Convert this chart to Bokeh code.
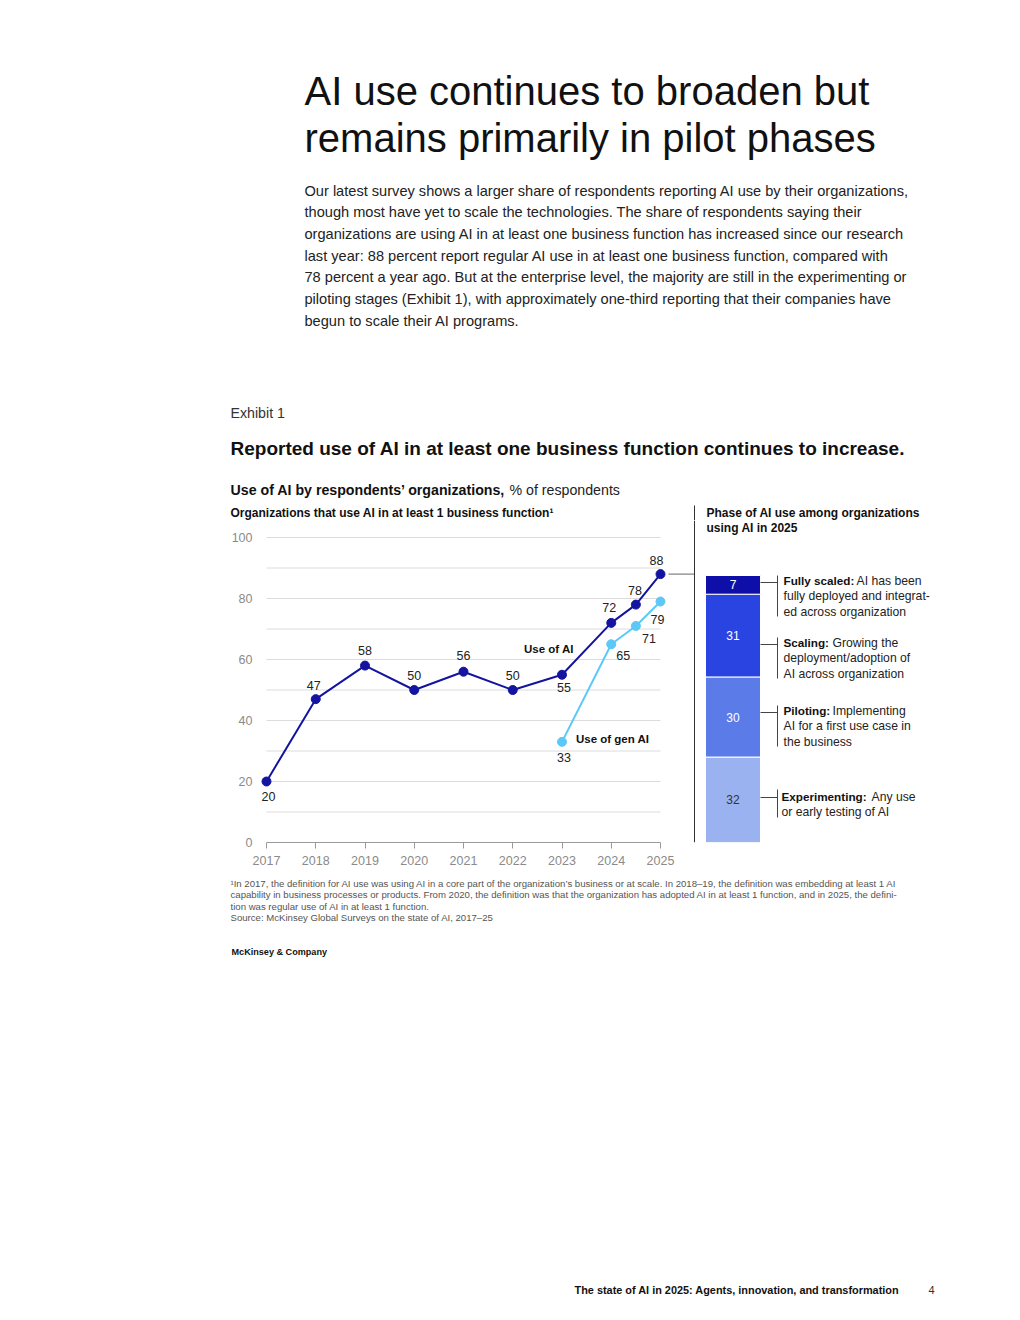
from bokeh.plotting import figure
from bokeh.models import Range1d, ColumnDataSource, FixedTicker, Span
from bokeh.layouts import column, row
from bokeh.core.properties import value
from bokeh.embed import file_html
from bokeh.resources import INLINE

# ---------------- data ----------------
ai_years = [2017, 2018, 2019, 2020, 2021, 2022, 2023, 2024, 2024.5, 2025]
ai_use = [20, 47, 58, 50, 56, 50, 55, 72, 78, 88]
gen_years = [2023, 2024, 2024.5, 2025]
gen_ai_use = [33, 65, 71, 79]
x_tick_years = [2017, 2018, 2019, 2020, 2021, 2022, 2023, 2024, 2025]
y_ticks = [0, 20, 40, 60, 80, 100]
grid_values = [10, 20, 30, 40, 50, 60, 70, 80, 90, 100]

phases = ["Experimenting", "Piloting", "Scaling", "Fully scaled"]
phase_share = [32, 30, 31, 7]

title_lines = ["AI use continues to broaden but", "remains primarily in pilot phases"]
para_lines = [
    "Our latest survey shows a larger share of respondents reporting AI use by their organizations,",
    "though most have yet to scale the technologies. The share of respondents saying their",
    "organizations are using AI in at least one business function has increased since our research",
    "last year: 88 percent report regular AI use in at least one business function, compared with",
    "78 percent a year ago. But at the enterprise level, the majority are still in the experimenting or",
    "piloting stages (Exhibit 1), with approximately one-third reporting that their companies have",
    "begun to scale their AI programs.",
]
foot_lines = [
    "\u00b9In 2017, the definition for AI use was using AI in a core part of the organization\u2019s business or at scale. In 2018\u201319, the definition was embedding at least 1 AI",
    " capability in business processes or products. From 2020, the definition was that the organization has adopted AI in at least 1 function, and in 2025, the defini-",
    " tion was regular use of AI in at least 1 function.",
    " Source: McKinsey Global Surveys on the state of AI, 2017\u201325",
]

# ---------------- styles ----------------
FONT = "Liberation Sans"
AI_COLOR = "#1414a0"
GEN_COLOR = "#5cc8f7"
BAR_COLORS = ["#9bb2f0", "#5b7be8", "#2a44e2", "#0d0fa8"]
BAR_TEXT = ["#333333", "#ffffff", "#ffffff", "#ffffff"]
TICK_COLOR = "#8a8a8a"

PX_YEAR = 49.25   # px per year on the line chart
PX_PCT = 3.05     # px per percentage point on the line chart
PX_BAR = 2.67     # px per percentage point on the bar


def blank(width, height, xr, yr, **kw):
    p = figure(width=width, height=height, x_range=xr, y_range=yr,
               output_backend="svg", toolbar_location=None,
               x_axis_type=None, y_axis_type=None, outline_line_color=None,
               min_border=0, background_fill_color="white",
               border_fill_color="white", **kw)
    p.xgrid.visible = False
    p.ygrid.visible = False
    return p


def txt(p, x, y, s, size, color="#222222", bold=False, align="left", **kw):
    p.text(x=[x], y=[y], text=[s], text_font=value(FONT),
           text_font_size=f"{size}px", text_color=color,
           text_font_style="bold" if bold else "normal",
           text_align=align, text_baseline="middle", **kw)


# ---------------- top text block (page y 0..520) ----------------
top = blank(1004, 520, Range1d(0, 1004), Range1d(520, 0))
txt(top, 304, 90, title_lines[0], 40, color="#111111")
txt(top, 304, 137, title_lines[1], 40, color="#111111")
for i, line in enumerate(para_lines):
    txt(top, 304, 190 + 21.67 * i, line, 14.6, color="#222222")
txt(top, 230, 412, "Exhibit 1", 14.2, color="#333333")
txt(top, 230, 448, "Reported use of AI in at least one business function continues to increase.",
    19, color="#111111", bold=True)
txt(top, 230, 489, "Use of AI by respondents\u2019 organizations,", 14.2, color="#111111", bold=True)
txt(top, 509, 489, "% of respondents", 14.2, color="#222222")
txt(top, 230, 512, "Organizations that use AI in at least 1 business function\u00b9", 12,
    color="#111111", bold=True)
txt(top, 706, 512, "Phase of AI use among organizations", 12, color="#111111", bold=True)
top.segment(x0=[694], y0=[505], x1=[694], y1=[520], line_color="#333333", line_width=1)

# ---------------- line chart (page y 520..875, x 0..700) ----------------
chart = figure(width=700, height=355,
               x_range=Range1d(2017 - 8 / PX_YEAR, 2017 + 434 / PX_YEAR),
               y_range=Range1d(0, 322 / PX_PCT),
               output_backend="svg", toolbar_location=None,
               min_border_left=258, min_border_right=0, min_border_top=0,
               min_border_bottom=33, outline_line_color=None,
               background_fill_color="white", border_fill_color="white")
chart.xgrid.visible = False
chart.ygrid.visible = False

xa = chart.xaxis[0]
xa.ticker = FixedTicker(ticks=x_tick_years)
xa.bounds = (x_tick_years[0], x_tick_years[-1])
xa.axis_line_color = "#9a9a9a"
xa.major_tick_line_color = "#9a9a9a"
xa.major_tick_out = 6
xa.major_tick_in = 0
xa.minor_tick_line_color = None
xa.major_label_standoff = 7
xa.major_label_text_font = FONT
xa.major_label_text_font_size = "12.5px"
xa.major_label_text_color = TICK_COLOR

ya = chart.yaxis[0]
ya.ticker = FixedTicker(ticks=y_ticks)
ya.axis_line_color = None
ya.major_tick_line_color = None
ya.minor_tick_line_color = None
ya.major_tick_out = 0
ya.major_tick_in = 0
ya.major_label_standoff = 6
ya.major_label_text_font = FONT
ya.major_label_text_font_size = "12.5px"
ya.major_label_text_color = TICK_COLOR

# horizontal gridlines between first and last year
chart.segment(x0=[x_tick_years[0]] * len(grid_values), y0=grid_values,
              x1=[x_tick_years[-1]] * len(grid_values), y1=grid_values,
              line_color="#dcdcdc", line_width=1)

# divider and connector to the bar
div_x = 2017 + (694 - 266) / PX_YEAR
chart.add_layout(Span(location=div_x, dimension="height", line_color="#333333", line_width=1))
chart.segment(x0=[ai_years[-1] + 8 / PX_YEAR], y0=[ai_use[-1]], x1=[div_x], y1=[ai_use[-1]],
              line_color="#666666", line_width=1)

# gen AI series
chart.line(gen_years, gen_ai_use, line_color=GEN_COLOR, line_width=2)
chart.scatter(gen_years, gen_ai_use, size=9, fill_color=GEN_COLOR, line_color=GEN_COLOR)
# AI series
chart.line(ai_years, ai_use, line_color=AI_COLOR, line_width=2)
chart.scatter(ai_years, ai_use, size=9, fill_color=AI_COLOR, line_color=AI_COLOR)

ai_dx = [2, -2, 0, 0, 0, 0, 2, -2, -1, -4]
ai_dy = [15, -14, -15, -15, -16, -15, 13, -15, -14, -14]
gen_dx = [2, 12, 13, -3]
gen_dy = [16, 11, 13, 18]
chart.text(x=ai_years, y=ai_use, text=[str(v) for v in ai_use], x_offset=ai_dx, y_offset=ai_dy,
           text_align="center", text_baseline="middle", text_font=value(FONT),
           text_font_size="12.5px", text_color="#222222")
chart.text(x=gen_years, y=gen_ai_use, text=[str(v) for v in gen_ai_use], x_offset=gen_dx,
           y_offset=gen_dy, text_align="center", text_baseline="middle",
           text_font=value(FONT), text_font_size="12.5px", text_color="#222222")
chart.text(x=[ai_years[6]], y=[ai_use[6]], text=["Use of AI"], x_offset=[-38], y_offset=[-26],
           text_align="left", text_baseline="middle", text_font=value(FONT),
           text_font_size="11.5px", text_font_style="bold", text_color="#111111")
chart.text(x=[gen_years[0]], y=[gen_ai_use[0]], text=["Use of gen AI"], x_offset=[14],
           y_offset=[-3], text_align="left", text_baseline="middle", text_font=value(FONT),
           text_font_size="11.5px", text_font_style="bold", text_color="#111111")

# ---------------- stacked bar (page y 520..875, x 700..1004) ----------------
bar = blank(304, 355, Range1d(700, 1004), Range1d(0, 322 / PX_BAR), min_border_bottom=33)
bar.extra_y_ranges = {"px": Range1d(842, 520)}
txt(bar, 706, 527, "using AI in 2025", 12, color="#111111", bold=True, y_range_name="px")

src = {"x": [732.5]}
for ph, v in zip(phases, phase_share):
    src[ph] = [v]
bar.vbar_stack(phases, x="x", width=55, color=BAR_COLORS, line_color="white", line_width=1,
               source=ColumnDataSource(src))
mids = []
acc = 0
for v in phase_share:
    mids.append(acc + v / 2)
    acc += v
bar.text(x=[732.5] * len(phases), y=mids, text=[str(v) for v in phase_share],
         text_align="center", text_baseline="middle", text_font=value(FONT),
         text_font_size="12px", text_color=BAR_TEXT)

notes = [
    # bold lead, regular rest of line 1, x of regular part, further lines,
    # line-1 centre y, connector y, bracket top, bracket bottom
    ("Fully scaled:", "AI has been", 856, ["fully deployed and integrat-", "ed across organization"],
     580, 582, 575, 616),
    ("Scaling:", "Growing the", 832, ["deployment/adoption of", "AI across organization"],
     642, 644, 637, 678),
    ("Piloting:", "Implementing", 832, ["AI for a first use case in", "the business"],
     710, 712, 705, 746),
    ("Experimenting:", "Any use", 871, ["or early testing of AI"],
     796, 797, 789, 817),
]
for b, r, rx, rest, y0, hy, v0, v1 in notes:
    bx = 783 if b != "Experimenting:" else 781
    txt(bar, bx, y0, b, 11.7, color="#111111", bold=True, y_range_name="px")
    txt(bar, rx, y0, r, 12.2, color="#222222", y_range_name="px")
    for k, line in enumerate(rest):
        txt(bar, bx, y0 + 15.5 * (k + 1), line, 12.2, color="#222222", y_range_name="px")
    bar.segment(x0=[760], y0=[hy], x1=[777], y1=[hy], line_color="#444444", line_width=1,
                y_range_name="px")
    bar.segment(x0=[777], y0=[v0], x1=[777], y1=[v1], line_color="#444444", line_width=1,
                y_range_name="px")

# ---------------- bottom text block (page y 875..1304) ----------------
bottom = blank(1004, 429, Range1d(0, 1004), Range1d(1304, 875))
for i, line in enumerate(foot_lines):
    txt(bottom, 230, 883 + 11.3 * i, line, 9.6, color="#555555")
txt(bottom, 231, 951, "McKinsey & Company", 9.1, color="#111111", bold=True)
txt(bottom, 574, 1289, "The state of AI in 2025: Agents, innovation, and transformation", 10.9,
    color="#111111", bold=True)
txt(bottom, 928, 1289, "4", 11, color="#333333")

layout = column(top, row(chart, bar), bottom)
open("out.html", "w").write(file_html(layout, INLINE))
